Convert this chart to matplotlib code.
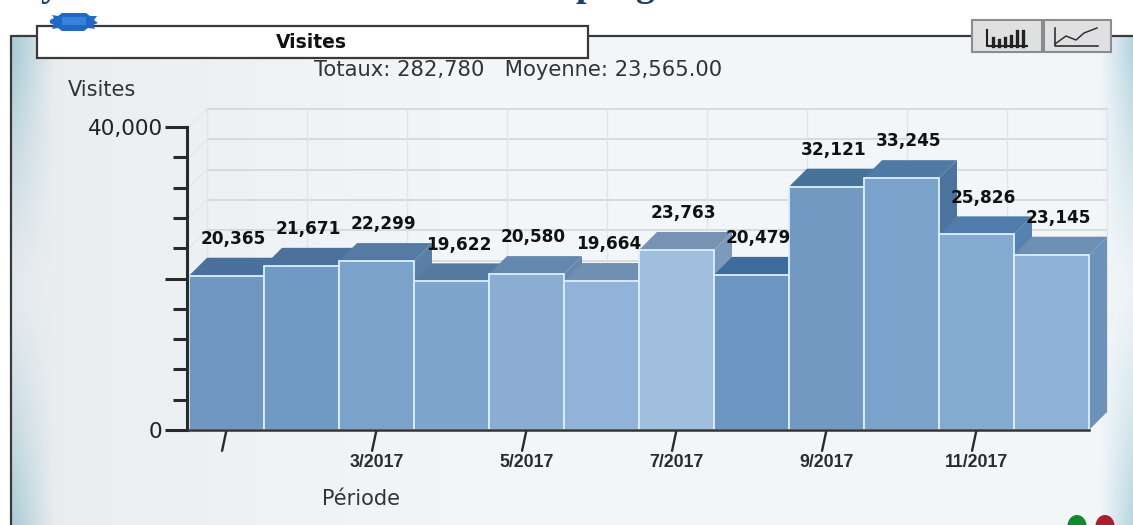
import numpy as np
import matplotlib
matplotlib.use("Agg")
import matplotlib.pyplot as plt
from matplotlib.patches import Polygon, Rectangle, Ellipse

months = ["1/2017", "2/2017", "3/2017", "4/2017", "5/2017", "6/2017",
          "7/2017", "8/2017", "9/2017", "10/2017", "11/2017", "12/2017"]
visits = [20365, 21671, 22299, 19622, 20580, 19664,
          23763, 20479, 32121, 33245, 25826, 23145]
front_colors = ["#6f97c1", "#7099c3", "#7ba2ca", "#7ea5cd", "#8badd3", "#91b3d8",
                "#a0bfde", "#6c96c2", "#7299c2", "#7ba2cb", "#85aad0", "#8fb2d7"]
top_colors = ["#4a719d", "#4c729c", "#557ba2", "#557a9f", "#6488ad", "#6f90b3",
              "#7792b3", "#3f6c9e", "#497299", "#507aa6", "#4f7cab", "#6d8fb3"]
side_colors = ["#4a719d", "#4c729c", "#5a7fa6", "#557a9f", "#6488ad", "#6f90b3",
               "#7c9abb", "#3f6c9e", "#497299", "#4c739e", "#5581ae", "#6b92b8"]
totals_text = "Totaux: 282,780   Moyenne: 23,565.00"

W, H = 1133, 525
fig = plt.figure(figsize=(W / 100, H / 100), dpi=100, facecolor="white")
plt.rcParams["font.family"] = "DejaVu Sans"

# ---------- page / panel decoration in pixel coordinates ----------
bg = fig.add_axes([0, 0, 1, 1], zorder=0)
bg.set_xlim(0, W)
bg.set_ylim(H, 0)
bg.axis("off")

xx, yy = np.meshgrid(np.arange(10, W), np.arange(36, H))
base = np.array([0.955, 0.968, 0.978])
edge = np.array([0.70, 0.83, 0.87])
vert = np.clip(np.abs((yy - 290) / 235.0), 0, 1) ** 1.3
left = np.clip(1 - (xx - 12) / 45.0, 0, 1) ** 1.1 * (0.12 + 0.88 * vert)
right = np.clip((xx - 1098) / 36.0, 0, 1) ** 1.1 * (0.12 + 0.88 * vert)
darken = 0.035 * np.clip(1 - (xx - 60) / 420.0, 0, 1)
w = np.clip(left + right, 0, 1)[..., None]
img = base * (1 - w) + edge * w - darken[..., None]
bg.imshow(np.clip(img, 0, 1), extent=(10, W, H, 36), aspect="auto", zorder=0, interpolation="bilinear")
bg.set_xlim(0, W)
bg.set_ylim(H, 0)
bg.plot([10.5, 10.5, 40], [H, 36, 36], color="#3a3a3a", lw=1.6, zorder=1)
bg.plot([585, W], [36, 36], color="#3a3a3a", lw=1.6, zorder=1)
bg.add_patch(Rectangle((37, 25.5), 551, 32, fc="white", ec="#3a3a3a", lw=1.6, zorder=2))

orn = Polygon([(50, 20), (54, 18), (52, 15), (58, 16), (62, 13), (86, 13), (90, 16), (97, 16),
               (94, 20), (98, 23), (93, 25), (95, 29), (88, 28), (84, 31), (62, 31), (58, 28),
               (52, 29), (54, 25), (50, 23)], fc="#2168c4", ec="none", zorder=3)
bg.add_patch(orn)
bg.add_patch(Rectangle((62, 17), 24, 8, fc="#3583dc", ec="none", zorder=4))

for x0, bw in ((972, 70), (1044, 67)):
    bg.add_patch(Rectangle((x0, 20), bw, 32, fc="#dfe0e1", ec="#8c8c8c", lw=1.5, zorder=2))
bg.plot([987, 987, 1027], [30, 46, 46], color="#222222", lw=1.5, zorder=3)
for bx, bt in zip((993, 999, 1005, 1011, 1017, 1023), (38, 40, 38, 36, 31, 31)):
    bg.plot([bx, bx], [bt, 46], color="#222222", lw=2.4, zorder=3)
bg.plot([1055, 1055, 1098], [28, 46, 46], color="#222222", lw=1.1, zorder=3)
bg.plot([1055, 1066, 1076, 1084, 1097], [44, 36, 40, 33, 28], color="#333333", lw=1.1, zorder=3)

bg.add_patch(Ellipse((1077, 526), 19, 22, fc="#0f8a2c", ec="none", zorder=3))
bg.add_patch(Ellipse((1105, 526), 19, 22, fc="#a8202f", ec="none", zorder=3))

# cut-off heading at the very top of the page
for tx, ch in ((50, "y"), (586, "p"), (645, "g")):
    bg.text(tx, -4, ch, family="Liberation Serif", weight="bold", fontsize=27, color="#1d3a72",
            ha="center", va="baseline", zorder=3, clip_on=True)

bg.text(311, 42, "Visites", fontsize=13.5, weight="bold", color="#111111", ha="center", va="center", zorder=3)
bg.text(518, 70, totals_text, fontsize=15.2, color="#333333", ha="center", va="center", zorder=3)
bg.text(102, 90, "Visites", fontsize=15, color="#333333", ha="center", va="center", zorder=3)
bg.text(361, 499, "Période", fontsize=15, color="#333333", ha="center", va="center", zorder=3)

# ---------- chart ----------
x0_px, x1_px, y0_px, y1_px = 189, 1089, 430, 127
ax = fig.add_axes([x0_px / W, 1 - y0_px / H, (x1_px - x0_px) / W, (y0_px - y1_px) / H], zorder=2)
ax.patch.set_alpha(0)
ax.set_xlim(-0.5, 11.5)
ax.set_ylim(0, 40000)
dx = 18 / 75
dy = 18 * 40000 / 303
wall = "#cfd4d7"
for v in range(0, 40001, 4000):
    ax.plot([-0.5 + dx, 11.5 + dx], [v + dy, v + dy], color=wall, lw=1.1, zorder=1, clip_on=False)
    ax.plot([-0.5, -0.5 + dx], [v, v + dy], color="#e4e7e9", lw=0.8, zorder=1, clip_on=False)
for i in range(10):
    xv = -0.5 + dx + i * 12 / 9
    ax.plot([xv, xv], [dy, 40000 + dy], color="#e2e5e7", lw=1.0, zorder=1, clip_on=False)

for i, v in enumerate(visits):
    l, r = i - 0.5, i + 0.5
    ax.add_patch(Polygon([(r, 0), (r + dx, dy), (r + dx, v + dy), (r, v)], fc=side_colors[i], ec="none",
                         zorder=3 + i * 0.01, clip_on=False))
    ax.add_patch(Polygon([(l, v), (l + dx, v + dy), (r + dx, v + dy), (r, v)], fc=top_colors[i], ec="none",
                         zorder=3 + i * 0.01, clip_on=False))
    ax.add_patch(Rectangle((l, 0), 1, v, fc=front_colors[i], ec="#dcf0fb", lw=1.3,
                           zorder=3 + i * 0.01 + 0.005, clip_on=False))
    ax.annotate(f"{v:,}", xy=(i, v), xytext=(5, 26.5), textcoords="offset points", ha="center", va="center",
                fontsize=12.2, weight="bold", color="#111111", zorder=6, annotation_clip=False)

for s in ("top", "right"):
    ax.spines[s].set_visible(False)
ax.spines["left"].set_position(("outward", 1.5))
ax.spines["left"].set_linewidth(2.2)
ax.spines["left"].set_color("#2a2a2a")
ax.spines["left"].set_zorder(5)
ax.spines["bottom"].set_linewidth(1.8)
ax.spines["bottom"].set_color("#333333")
ax.spines["bottom"].set_zorder(5)

ax.set_yticks([0, 20000, 40000], ["0", "", "40,000"])
ax.set_yticks(np.arange(0, 40001, 4000), minor=True)
ax.tick_params(axis="y", which="major", length=15.5, width=2.2, color="#2a2a2a", labelsize=15.5,
               labelcolor="#222222", pad=2)
ax.tick_params(axis="y", which="minor", length=10, width=2.2, color="#2a2a2a")

tick_idx = list(range(0, 12, 2))
ax.set_xticks(tick_idx, ["" if i == 0 else months[i] for i in tick_idx],
              family="Liberation Sans", weight="bold", fontsize=12.8, color="#2c2c2c")
ax.tick_params(axis="x", length=0, pad=17.5)
for i in tick_idx:
    ax.annotate("", xy=(i, 0), xycoords="data", xytext=(-3.2, -15), textcoords="offset points",
                arrowprops=dict(arrowstyle="-", color="#2a2a2a", lw=1.7, shrinkA=0, shrinkB=0), annotation_clip=False)

fig.savefig("out.png", dpi=100)
